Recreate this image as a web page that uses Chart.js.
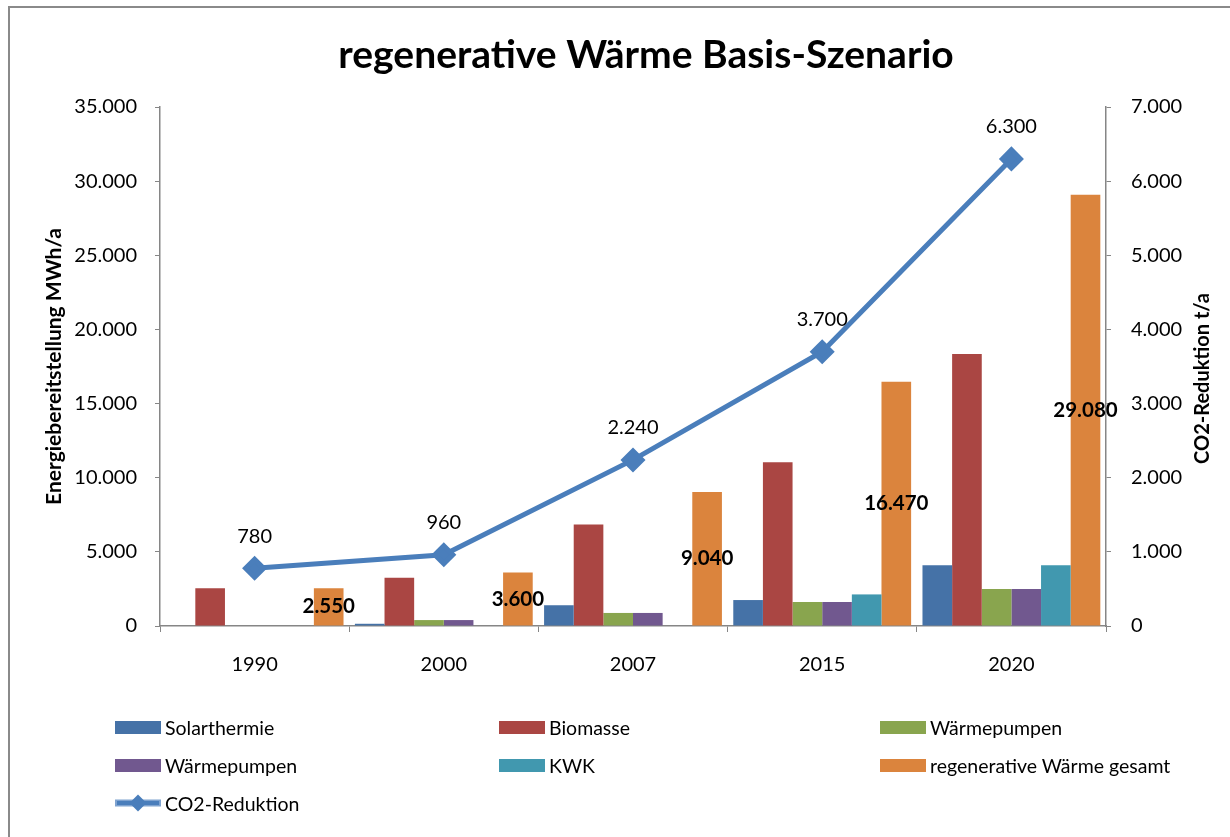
<!DOCTYPE html>
<html lang="de">
<head>
<meta charset="utf-8">
<title>regenerative Wärme Basis-Szenario</title>
<script src="https://cdn.jsdelivr.net/npm/chart.js"></script>
<style>
  html, body { margin: 0; padding: 0; background: #fff; }
  body { width: 1230px; height: 837px; position: relative; overflow: hidden; font-family: Lato, sans-serif; }
  #frame { position: absolute; left: 8px; top: 6px; width: 1240px; height: 850px; border: 2px solid #8a8a8a; }
  #chart { position: absolute; left: 0; top: 0; }
  #legend { position: absolute; left: 115px; top: 708px; display: grid;
            grid-template-columns: 384px 381px 300px; grid-auto-rows: 38px; }
  .item { display: flex; align-items: center; font-size: 19.5px; color: #000; }
  .box { width: 46px; height: 13px; margin-right: 4px; }
</style>
</head>
<body>
<div id="frame"></div>
<canvas id="chart" width="1230" height="837"></canvas>
<div id="legend"></div>
<script>
const chartTitle = 'regenerative Wärme Basis-Szenario';
const years = ['1990', '2000', '2007', '2015', '2020'];
const solarthermie = [0, 150, 1400, 1750, 4100];
const biomasse = [2550, 3250, 6850, 11050, 18350];
const waermepumpen = [0, 400, 880, 1620, 2500];
const waermepumpen2 = [0, 400, 880, 1620, 2500];
const kwk = [0, 0, 0, 2130, 4100];
const gesamt = [2550, 3600, 9040, 16470, 29080];
const co2 = [780, 960, 2240, 3700, 6300];

const fmt = v => String(v).replace(/\B(?=(\d{3})+(?!\d))/g, '.');

Chart.defaults.font.family = 'Lato, sans-serif';
Chart.defaults.color = '#000';

const axisGrey = '#868686';

const datasets = [
    { type: 'line', label: 'CO2-Reduktion', data: co2, yAxisID: 'y2', order: 0,
      borderColor: '#4A7EBB', backgroundColor: '#4A7EBB', borderWidth: 5,
      pointStyle: 'rectRot', pointRadius: 9, pointHoverRadius: 9 },
    { label: 'Solarthermie', data: solarthermie, backgroundColor: '#4572A7', order: 1 },
    { label: 'Biomasse', data: biomasse, backgroundColor: '#AA4643', order: 1 },
    { label: 'Wärmepumpen', data: waermepumpen, backgroundColor: '#89A54E', order: 1 },
    { label: 'Wärmepumpen', data: waermepumpen2, backgroundColor: '#71588F', order: 1 },
    { label: 'KWK', data: kwk, backgroundColor: '#4198AF', order: 1 },
    { label: 'regenerative Wärme gesamt', data: gesamt, backgroundColor: '#DB843D', order: 1 }
];

// value labels: totals inside the orange bars, CO2 above the points
const valueLabels = {
    id: 'valueLabels',
    afterDatasetsDraw(chart) {
        const ctx = chart.ctx;
        ctx.save();
        ctx.textAlign = 'center';
        ctx.textBaseline = 'middle';
        ctx.fillStyle = '#000';
        const barMeta = chart.getDatasetMeta(6);
        ctx.font = 'bold 20.5px Lato, sans-serif';
        barMeta.data.forEach((el, i) => {
            ctx.fillText(fmt(gesamt[i]), el.x, (el.y + el.base) / 2);
        });
        const lineMeta = chart.getDatasetMeta(0);
        ctx.font = '20px Lato, sans-serif';
        lineMeta.data.forEach((el, i) => {
            ctx.fillText(fmt(co2[i]), el.x, el.y - 32);
        });
        ctx.restore();
    },
    afterDraw(chart) {
        const ctx = chart.ctx;
        const a = chart.chartArea;
        ctx.save();
        ctx.fillStyle = '#000';
        ctx.textAlign = 'center';
        ctx.textBaseline = 'middle';
        // title, slightly right of the plot centre as in the original
        ctx.font = 'bold 39px Lato, sans-serif';
        ctx.fillText(chartTitle, 646, 55);
        // right axis title reads bottom to top
        ctx.translate(1203, (a.top + a.bottom) / 2 + 12);
        ctx.rotate(-Math.PI / 2);
        ctx.font = 'bold 20px Lato, sans-serif';
        ctx.fillText('CO2-Reduktion t/a', 0, 0);
        ctx.restore();
    }
};

new Chart(document.getElementById('chart'), {
    type: 'bar',
    data: { labels: years, datasets: datasets },
    plugins: [valueLabels],
    options: {
        responsive: false,
        animation: false,
        devicePixelRatio: 1,
        layout: { padding: { left: 0, right: 8, top: 107, bottom: 151 } },
        datasets: { bar: { categoryPercentage: 0.94, barPercentage: 1 } },
        plugins: {
            legend: { display: false },
            tooltip: { enabled: false },
            title: { display: false }
        },
        scales: {
            x: {
                grid: { display: true, drawOnChartArea: false, offset: true, tickLength: 6, color: axisGrey },
                border: { color: axisGrey, width: 1.5 },
                ticks: { font: { size: 20 }, padding: 21 },
                afterFit: s => { s.height = 60; }
            },
            y: {
                position: 'left',
                min: 0, max: 35000,
                ticks: { stepSize: 5000, font: { size: 20 }, padding: 18, callback: v => fmt(v) },
                grid: { drawOnChartArea: false, tickLength: 5, color: axisGrey },
                border: { color: axisGrey, width: 1.5 },
                title: { display: true, text: 'Energiebereitstellung MWh/a',
                         font: { size: 21, weight: 'bold' }, padding: { top: 42, bottom: 0 } },
                afterFit: s => { s.width = 160; }
            },
            y2: {
                position: 'right',
                min: 0, max: 7000,
                ticks: { stepSize: 1000, font: { size: 20 }, padding: 20, callback: v => fmt(v) },
                grid: { drawOnChartArea: false, tickLength: 5, color: axisGrey },
                border: { color: axisGrey, width: 1.5 },
                afterFit: s => { s.width = 116; }
            }
        }
    }
});

// legend in three columns like the original
const legendOrder = [1, 2, 3, 4, 5, 6, 0];
const legend = document.getElementById('legend');
legendOrder.forEach(i => {
    const ds = datasets[i];
    const item = document.createElement('div');
    item.className = 'item';
    if (ds.type === 'line') {
        item.innerHTML = '<svg width="46" height="20" style="margin-right:4px">' +
            '<line x1="1" y1="10" x2="45" y2="10" stroke="#7FA3D0" stroke-width="7" stroke-linecap="round"/>' +
            '<line x1="2" y1="10" x2="44" y2="10" stroke="' + ds.borderColor + '" stroke-width="4"/>' +
            '<rect x="17" y="4" width="12" height="12" fill="' + ds.borderColor + '" transform="rotate(45 23 10)"/></svg>';
    } else {
        item.innerHTML = '<span class="box" style="background:' + ds.backgroundColor + '"></span>';
    }
    const txt = document.createElement('span');
    txt.textContent = ds.label;
    item.appendChild(txt);
    legend.appendChild(item);
});
</script>
</body>
</html>
